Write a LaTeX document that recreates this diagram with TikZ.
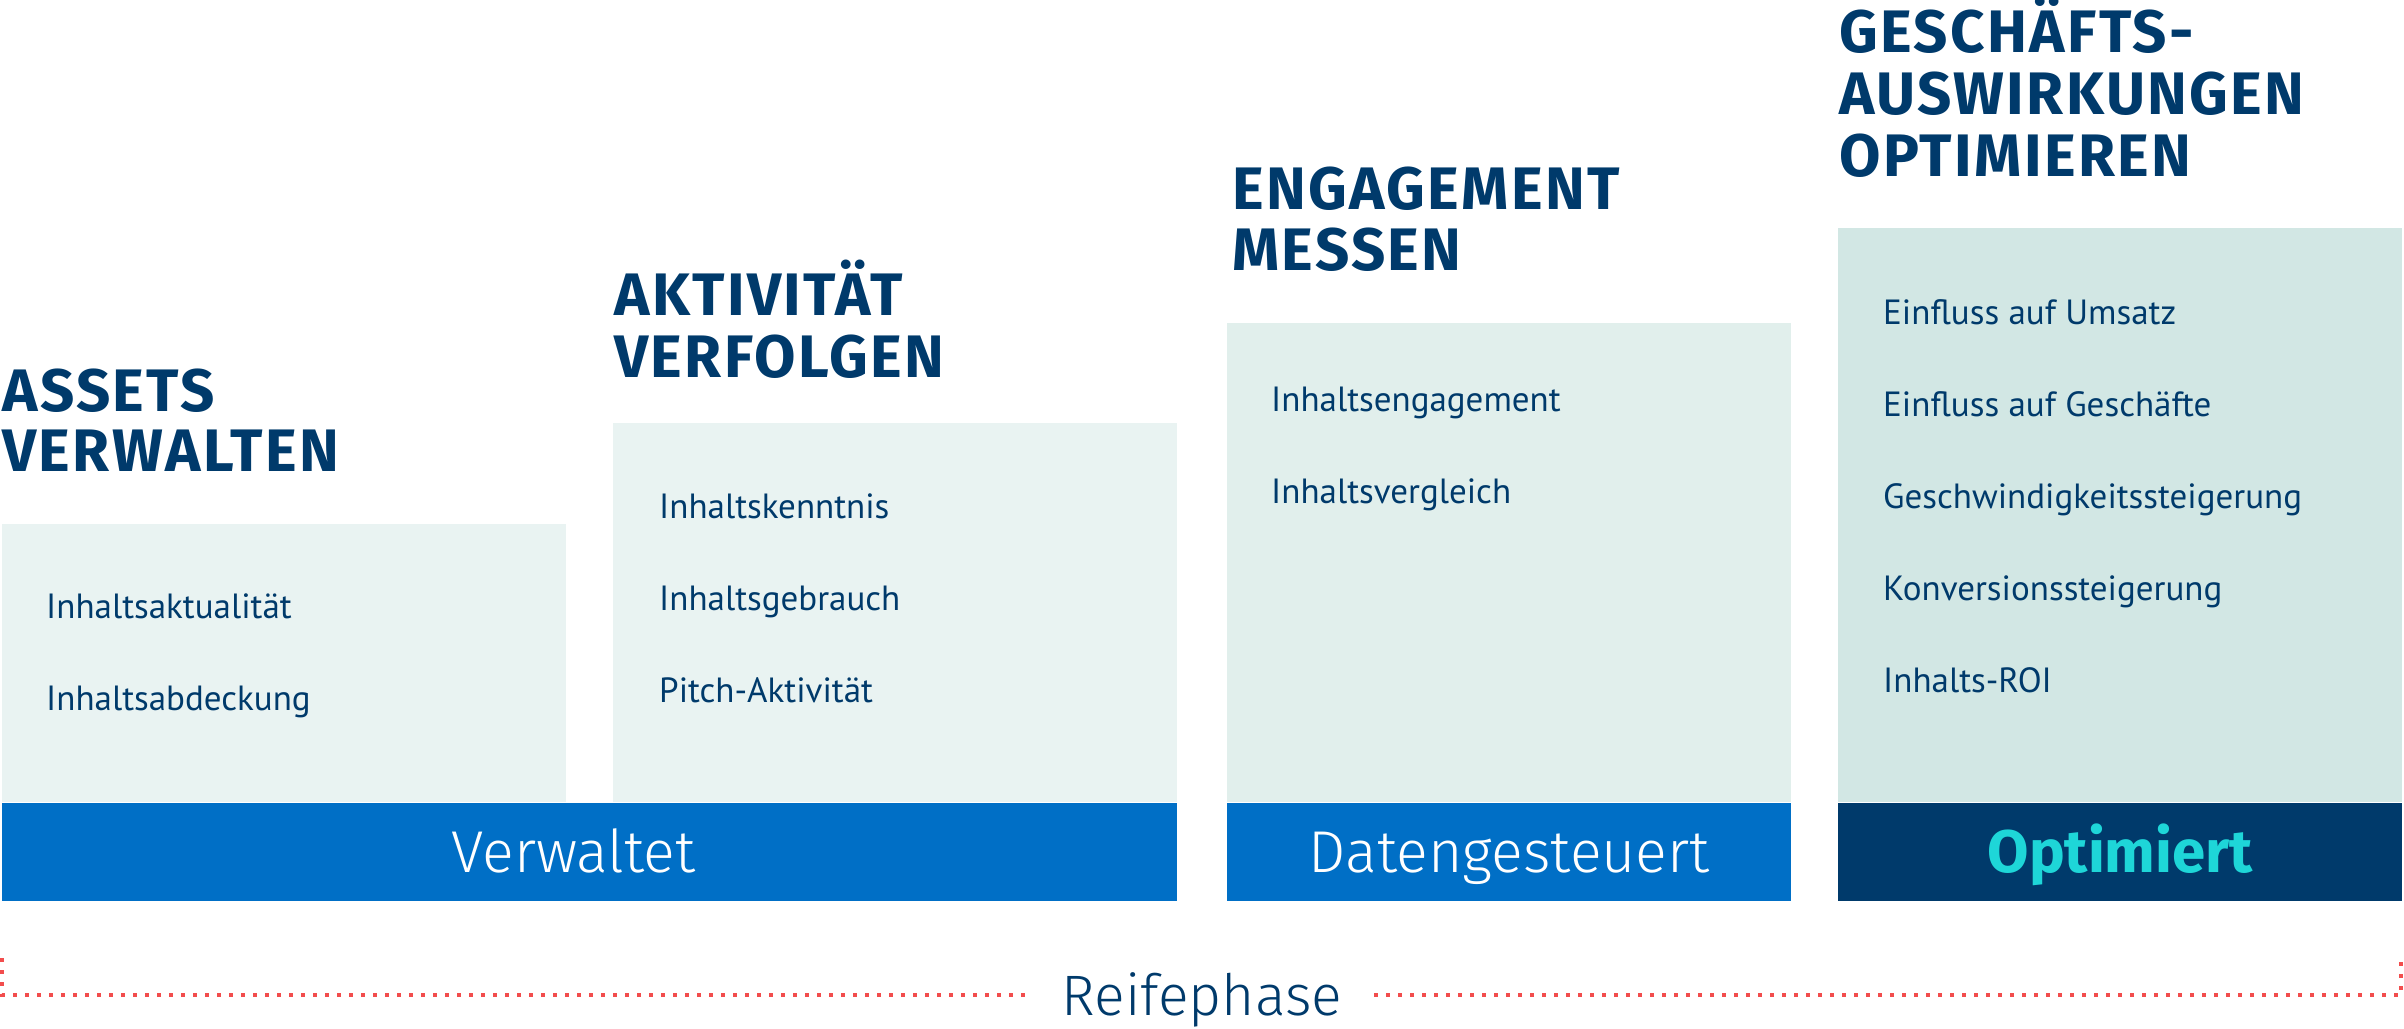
\documentclass[tikz,border=0pt]{standalone}
\usepackage{fontspec}
\setmainfont{PT Sans}
\newfontfamily\headfont{Fira Sans}[UprightFont={* Bold}]
\newfontfamily\capsfont{Fira Sans}[UprightFont={* Bold}, LetterSpace=4]
\newfontfamily\thinfont{Fira Sans}[UprightFont={* Light}]
\usepackage{xcolor}
\usepackage{tikz}
\usetikzlibrary{positioning}

\definecolor{navy}{HTML}{003A6B}
\definecolor{barblue}{HTML}{006FC6}
\definecolor{paleA}{HTML}{E9F3F2}
\definecolor{paleB}{HTML}{E1EFEC}
\definecolor{paleC}{HTML}{D2E7E4}
\definecolor{cyanlbl}{HTML}{1ED6D8}
\definecolor{dotred}{HTML}{F24D4D}

\tikzset{
  heading/.style={anchor=base west, inner sep=0pt, text=navy, font=\capsfont\fontsize{60}{66}\selectfont},
  item/.style={anchor=base west, inner sep=0pt, text=navy, font=\fontsize{35}{42}\selectfont},
  panel/.style={anchor=north west, inner sep=0pt, minimum width=564pt},
  bar/.style={anchor=north west, inner sep=0pt, minimum height=98pt, text height=41pt, text depth=0pt,
    text=white, font=\thinfont\fontsize{59}{64}\selectfont},
  phase line/.style={dotred, line width=4pt, dash pattern=on 4pt off 8pt}
}

\begin{document}
\begin{tikzpicture}[x=1pt, y=-1pt]
    \useasboundingbox (0,0) rectangle (2404,1028);

    % panels
    \node[panel, fill=paleA, minimum height=278pt] (p1) at (2,524) {};
    \node[panel, fill=paleA, minimum height=379pt] (p2) at (613,423) {};
    \node[panel, fill=paleB, minimum height=479pt] (p3) at (1227,323) {};
    \node[panel, fill=paleC, minimum height=574pt] (p4) at (1838,228) {};

    % bars
    \node[bar, fill=barblue, minimum width=1175pt] (verwaltet) at (p1.south west) {Verwaltet\hspace*{32pt}};
    \node[bar, fill=barblue, minimum width=564pt] (daten) at (p3.south west) {Datengesteuert};
    \node[bar, fill=navy, minimum width=564pt, text=cyanlbl, font=\headfont\fontsize{60}{66}\selectfont] (optimiert) at (p4.south west) {Optimiert};

    % headings
    \node[heading] (h1a) at (2,411) {ASSETS};
    \node[heading] (h1b) at (2,471) {VERWALTEN};
    \node[heading] (h2a) at (614,315) {AKTIVITÄT};
    \node[heading] (h2b) at (614,377) {VERFOLGEN};
    \node[heading] (h3a) at (1232,209) {ENGAGEMENT};
    \node[heading] (h3b) at (1232,270) {MESSEN};
    \node[heading] (h4a) at (1839,52) {GESCHÄFTS-};
    \node[heading] (h4b) at (1839,114) {AUSWIRKUNGEN};
    \node[heading] (h4c) at (1839,176) {OPTIMIEREN};

    % items
    \node[item] (a1) at ([xshift=44pt, yshift=-94pt]p1.north west) {Inhaltsaktualität};
    \node[item] (a2) at ([xshift=44pt, yshift=-186pt]p1.north west) {Inhaltsabdeckung};

    \node[item] (b1) at ([xshift=46pt, yshift=-95pt]p2.north west) {Inhaltskenntnis};
    \node[item] (b2) at ([xshift=46pt, yshift=-187pt]p2.north west) {Inhaltsgebrauch};
    \node[item] (b3) at ([xshift=46pt, yshift=-279pt]p2.north west) {Pitch-Aktivität};

    \node[item] (c1) at ([xshift=44pt, yshift=-88pt]p3.north west) {Inhaltsengagement};
    \node[item] (c2) at ([xshift=44pt, yshift=-180pt]p3.north west) {Inhaltsvergleich};

    \node[item] (d1) at ([xshift=45pt, yshift=-96pt]p4.north west) {Einfluss auf Umsatz};
    \node[item] (d2) at ([xshift=45pt, yshift=-188pt]p4.north west) {Einfluss auf Geschäfte};
    \node[item] (d3) at ([xshift=45pt, yshift=-280pt]p4.north west) {Geschwindigkeitssteigerung};
    \node[item] (d4) at ([xshift=45pt, yshift=-372pt]p4.north west) {Konversionssteigerung};
    \node[item] (d5) at ([xshift=45pt, yshift=-464pt]p4.north west) {Inhalts-ROI};

    % maturity axis
    \node[inner xsep=32pt, inner ysep=0pt, text height=40pt, text depth=0pt, text=navy,
      font=\thinfont\fontsize{57}{62}\selectfont] (reife) at (1202,995) {Reifephase};
    \coordinate (phaseL) at (2,958);
    \coordinate (phaseR) at (2401,958);
    \draw[phase line] (phaseL) |- (reife.west);
    \draw[phase line] (reife.east) -| (phaseR);
\end{tikzpicture}
\end{document}
